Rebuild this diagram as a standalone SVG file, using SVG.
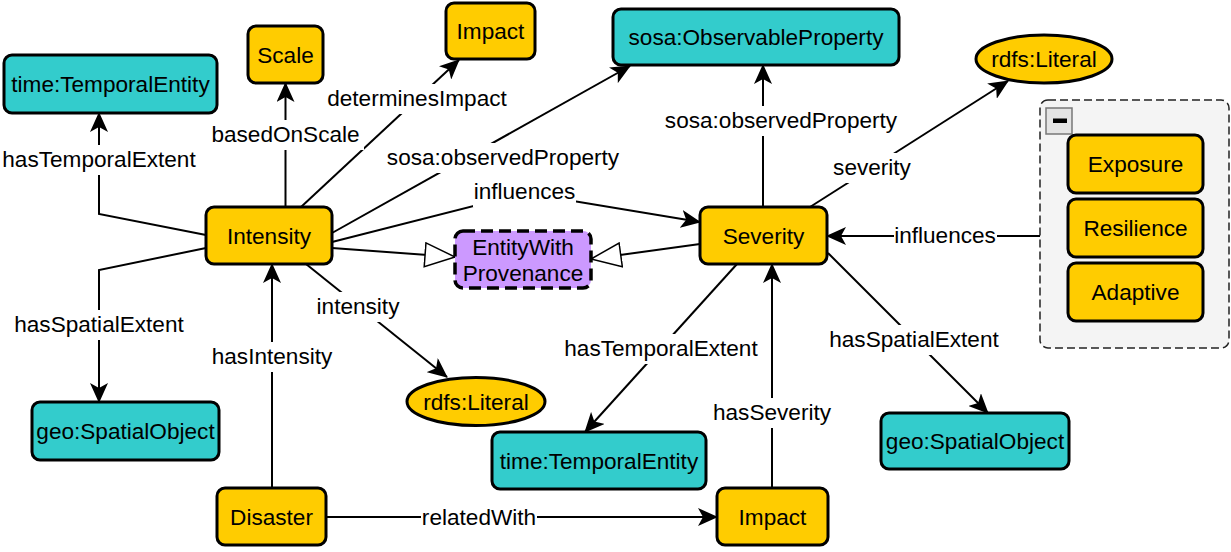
<svg xmlns="http://www.w3.org/2000/svg" width="1231" height="552" viewBox="0 0 1231 552">
<style>
text{font-family:"Liberation Sans",Arial,sans-serif;font-size:22.6px;fill:#000;text-anchor:middle}
.o{fill:#ffcc00;stroke:#000;stroke-width:3}
.c{fill:#33cccc;stroke:#000;stroke-width:3}
.p{fill:#cc99ff;stroke:#000;stroke-width:3.5;stroke-dasharray:12 6}
.e{fill:none;stroke:#000;stroke-width:2}
.a{marker-end:url(#arr)}
.i{marker-end:url(#inh)}
.bg{fill:#fff}
</style>
<defs>
<marker id="arr" markerWidth="20" markerHeight="18" refX="19" refY="9" viewBox="0 0 20 18" markerUnits="userSpaceOnUse" orient="auto"><path d="M0,0 L20,9 L0,18 L5,9 Z" fill="#000"/></marker>
<marker id="inh" markerWidth="32" markerHeight="26" refX="31" refY="13" viewBox="0 0 32 26" markerUnits="userSpaceOnUse" orient="auto"><path d="M1,1 L31,13 L1,25 Z" fill="#fff" stroke="#000" stroke-width="1.5"/></marker>
</defs>
<rect width="1231" height="552" fill="#fff"/>
<g id="group-box">
<rect x="1040" y="100" width="189" height="248" rx="8" fill="#f4f4f4" stroke="#222" stroke-width="1.5" stroke-dasharray="8 4"/>
<rect x="1046" y="108" width="26" height="26" fill="#e4e4e4" stroke="#777" stroke-width="1.5"/>
<rect x="1053" y="118.5" width="14" height="4.5" fill="#000"/>
</g>
<g id="connectors">
<polyline class="e a" points="206,235 99,214 99,113"/>
<polyline class="e a" points="206,248 99,270 99,402"/>
<line class="e a" x1="285.5" y1="207" x2="285.5" y2="83"/>
<line class="e a" x1="301" y1="207" x2="459" y2="60"/>
<line class="e a" x1="332" y1="233" x2="630" y2="66"/>
<polyline class="e a" points="332,242 525,193 700,222"/>
<line class="e i" x1="332" y1="248" x2="455" y2="257"/>
<line class="e i" x1="700" y1="244" x2="591" y2="259"/>
<line class="e a" x1="306" y1="264" x2="447" y2="377"/>
<line class="e a" x1="272" y1="488" x2="272" y2="264"/>
<line class="e a" x1="326" y1="517" x2="717" y2="517"/>
<line class="e a" x1="772" y1="488" x2="772" y2="264"/>
<line class="e a" x1="737" y1="264" x2="585" y2="432"/>
<line class="e a" x1="828" y1="253" x2="988" y2="413"/>
<line class="e a" x1="763" y1="207" x2="763" y2="65"/>
<line class="e a" x1="810" y1="207" x2="1008" y2="81"/>
<line class="e a" x1="1040" y1="236" x2="827" y2="236"/>
</g>
<g id="labels">
<rect class="bg" x="1" y="145" width="197" height="30"/><text x="99" y="167">hasTemporalExtent</text>
<rect class="bg" x="208" y="120" width="156" height="30"/><text x="285.5" y="142">basedOnScale</text>
<rect class="bg" x="327" y="84" width="180" height="30"/><text x="417" y="106">determinesImpact</text>
<rect class="bg" x="388" y="143" width="231" height="30"/><text x="503" y="165">sosa:observedProperty</text>
<rect class="bg" x="473" y="177" width="103" height="30"/><text x="524.5" y="199">influences</text>
<rect class="bg" x="666" y="106" width="231" height="30"/><text x="781" y="128">sosa:observedProperty</text>
<rect class="bg" x="832" y="153" width="80" height="30"/><text x="872" y="175">severity</text>
<rect class="bg" x="894" y="221" width="103" height="30"/><text x="945" y="243">influences</text>
<rect class="bg" x="829" y="325" width="170" height="30"/><text x="914" y="347">hasSpatialExtent</text>
<rect class="bg" x="14" y="310" width="170" height="30"/><text x="99" y="332">hasSpatialExtent</text>
<rect class="bg" x="211" y="342" width="122" height="30"/><text x="272" y="364">hasIntensity</text>
<rect class="bg" x="316" y="292" width="85" height="30"/><text x="358" y="314">intensity</text>
<rect class="bg" x="561" y="334" width="200" height="30"/><text x="661" y="356">hasTemporalExtent</text>
<rect class="bg" x="712" y="398" width="120" height="30"/><text x="772" y="420">hasSeverity</text>
<rect class="bg" x="421" y="503" width="116" height="30"/><text x="479" y="525">relatedWith</text>
</g>
<g id="n-intensity"><rect class="o" x="206" y="207" width="126" height="57" rx="8"/><text x="269" y="243.5">Intensity</text></g>
<g id="n-severity"><rect class="o" x="700" y="207" width="127" height="57" rx="8"/><text x="763.5" y="243.5">Severity</text></g>
<g id="n-scale"><rect class="o" x="248" y="26" width="75" height="57" rx="8"/><text x="285.5" y="62.5">Scale</text></g>
<g id="n-impact-top"><rect class="o" x="446" y="3" width="89" height="56" rx="8"/><text x="490.5" y="39">Impact</text></g>
<g id="n-sosa-observableproperty"><rect class="c" x="613" y="9" width="286" height="56" rx="8"/><text x="756" y="45">sosa:ObservableProperty</text></g>
<g id="n-time-temporalentity-1"><rect class="c" x="4" y="55" width="213" height="58" rx="8"/><text x="110.5" y="92">time:TemporalEntity</text></g>
<g id="n-geo-spatialobject-1"><rect class="c" x="32" y="402" width="187" height="58" rx="8"/><text x="125.5" y="439">geo:SpatialObject</text></g>
<g id="n-disaster"><rect class="o" x="217" y="488" width="109" height="57" rx="8"/><text x="271.5" y="524.5">Disaster</text></g>
<g id="n-impact-bottom"><rect class="o" x="717" y="488" width="111" height="57" rx="8"/><text x="772.5" y="524.5">Impact</text></g>
<g id="n-time-temporalentity-2"><rect class="c" x="492" y="432" width="214" height="57" rx="8"/><text x="599" y="468.5">time:TemporalEntity</text></g>
<g id="n-geo-spatialobject-2"><rect class="c" x="881" y="413" width="188" height="56" rx="8"/><text x="975" y="449">geo:SpatialObject</text></g>
<g id="n-entitywithprovenance"><rect class="p" x="455" y="231" width="136" height="57" rx="8"/><text x="523" y="254.5">EntityWith</text><text x="523" y="281">Provenance</text></g>
<g id="n-rdfs-literal-1"><ellipse class="o" cx="1044" cy="59" rx="68" ry="24"/><text x="1044" y="67">rdfs:Literal</text></g>
<g id="n-rdfs-literal-2"><ellipse class="o" cx="476" cy="401.5" rx="69" ry="24"/><text x="476" y="409.5">rdfs:Literal</text></g>
<g id="n-exposure"><rect class="o" x="1068" y="135" width="135" height="58" rx="8"/><text x="1135.5" y="172">Exposure</text></g>
<g id="n-resilience"><rect class="o" x="1068" y="199" width="135" height="58" rx="8"/><text x="1135.5" y="236">Resilience</text></g>
<g id="n-adaptive"><rect class="o" x="1068" y="263" width="135" height="58" rx="8"/><text x="1135.5" y="300">Adaptive</text></g>
</svg>
